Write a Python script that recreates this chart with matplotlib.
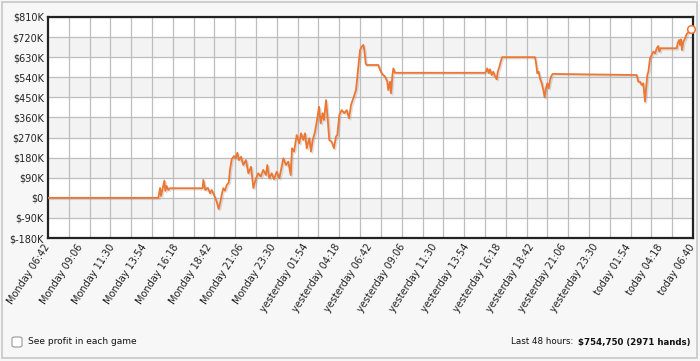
import numpy as np
import matplotlib.pyplot as plt
import matplotlib.patheffects as pe
from matplotlib.patches import Rectangle, FancyBboxPatch

# Horas desde "Monday 06:42" e lucro acumulado (milhares de $)
horas = [0.00, 8.21, 8.34, 8.41, 8.66, 8.73, 8.83, 8.95, 9.08, 11.51,
         11.56, 11.71, 11.89, 12.06, 12.18, 12.35, 12.55, 12.70, 12.80, 12.95,
         13.05, 13.17, 13.30, 13.45, 13.54, 13.67, 13.84, 13.97, 14.09, 14.21,
         14.36, 14.53, 14.73, 14.91, 15.11, 15.28, 15.48, 15.65, 15.83, 16.02,
         16.22, 16.32, 16.47, 16.65, 16.82, 17.02, 17.21, 17.39, 17.51, 17.71,
         17.88, 18.06, 18.16, 18.31, 18.51, 18.70, 18.83, 19.00, 19.13, 19.25,
         19.45, 19.57, 19.70, 19.87, 20.04, 20.17, 20.29, 20.44, 20.54, 20.69,
         20.82, 20.93, 21.11, 21.28, 21.43, 21.53, 21.68, 21.86, 22.05, 22.23,
         22.40, 22.55, 22.72, 22.92, 23.09, 23.22, 23.35, 23.47, 23.54, 23.64,
         23.70, 24.58, 24.71, 24.83, 24.95, 25.08, 25.25, 25.32, 25.45, 25.53,
         25.62, 25.70, 25.82, 32.52, 32.60, 32.69, 32.80, 32.89, 33.02, 33.14,
         33.27, 33.39, 33.47, 33.59, 33.69, 33.79, 36.24, 36.32, 36.41, 36.52,
         36.61, 36.74, 36.86, 36.96, 37.06, 37.16, 37.26, 37.36, 37.46, 37.56,
         43.81, 43.93, 44.06, 44.18, 44.30, 44.43, 44.50, 44.60, 44.68, 44.80,
         44.93, 45.05, 45.18, 45.30, 45.42, 45.49, 45.60, 46.79, 46.86, 46.96,
         47.03, 47.11, 47.18, 47.28, 47.41, 47.53, 47.65, 47.83]
lucro = [0, 0, 44, 8, 77, 31, 53, 35, 43, 43,
         80, 35, 45, 20, 35, 13, -17, -50, -25, 20,
         43, 32, 57, 68, 125, 173, 187, 177, 202, 169,
         184, 147, 169, 110, 139, 44, 87, 110, 95, 125,
         102, 147, 87, 110, 83, 117, 87, 139, 177, 147,
         162, 102, 222, 207, 281, 244, 289, 259, 289, 222,
         267, 207, 259, 296, 356, 408, 334, 379, 349, 438,
         349, 259, 251, 222, 274, 281, 371, 393, 379, 393,
         356, 416, 446, 483, 587, 662, 677, 685, 662, 603,
         595, 595, 573, 558, 550, 543, 520, 483, 520, 468,
         543, 580, 560, 560, 565, 580, 558, 576, 550, 565,
         543, 531, 565, 587, 610, 630, 630, 603, 558, 565,
         535, 513, 483, 450, 491, 513, 491, 528, 546, 555,
         550, 520, 520, 505, 513, 431, 483, 550, 565, 625,
         640, 655, 647, 670, 680, 655, 670, 670, 692, 707,
         685, 710, 662, 699, 714, 734, 740, 754.75]

rotulos_x = ['Monday 06:42', 'Monday 09:06', 'Monday 11:30', 'Monday 13:54',
             'Monday 16:18', 'Monday 18:42', 'Monday 21:06', 'Monday 23:30',
             'yesterday 01:54', 'yesterday 04:18', 'yesterday 06:42',
             'yesterday 09:06', 'yesterday 11:30', 'yesterday 13:54',
             'yesterday 16:18', 'yesterday 18:42', 'yesterday 21:06',
             'yesterday 23:30', 'today 01:54', 'today 04:18', 'today 06:40']
ticks_y = [-180, -90, 0, 90, 180, 270, 360, 450, 540, 630, 720, 810]

cor = '#ec7632'
fundo = '#f7f7f7'

fig = plt.figure(figsize=(7, 3.61), dpi=100, facecolor=fundo)
fig.patches.append(Rectangle((0.003, 0.008), 0.993, 0.986, transform=fig.transFigure,
                             fill=False, edgecolor='#c8c8c8', linewidth=1.2))

ax = fig.add_axes([48/700, 1-238/361, 645/700, 221/361])
ax.set_facecolor('white')

# faixas alternadas
for i in range(len(ticks_y) - 1):
    if i % 2 == 1:
        ax.axhspan(ticks_y[i], ticks_y[i+1], color='#f3f3f3', zorder=0, lw=0)

ax.set_xlim(0, 48)
ax.set_ylim(-180, 810)
ax.set_yticks(ticks_y)
ax.set_yticklabels(['$%dK' % v if v != 0 else '$0' for v in ticks_y], fontsize=7, color='#222222')
ax.set_xticks(np.linspace(0, 48, len(rotulos_x)))
ax.set_xticklabels(rotulos_x, rotation=57, ha='right', va='center', rotation_mode='anchor',
                   fontsize=7, color='#222222')
ax.set_xticks(np.linspace(0, 48, 32), minor=True)
ax.tick_params(length=0, pad=3, which='both')
ax.tick_params(axis='x', pad=5)

ax.grid(axis='y', color='#bdbdbd', linewidth=0.9, zorder=1)
ax.grid(axis='x', which='minor', color='#bdbdbd', linewidth=0.9, zorder=1)
ax.grid(axis='x', which='major', visible=False)
ax.set_axisbelow(True)
for s in ax.spines.values():
    s.set_linewidth(1.6)
    s.set_color('#222222')

ax.plot(horas, lucro, color=cor, linewidth=1.3, zorder=3,
        path_effects=[pe.SimpleLineShadow(offset=(1, -1), shadow_color='gray', alpha=0.25),
                      pe.Normal()])
ax.plot(horas[-1], lucro[-1], 'o', markersize=5.5, markerfacecolor='white',
        markeredgecolor=cor, markeredgewidth=1.1, zorder=4, clip_on=False)

# rodapé
fig.patches.append(FancyBboxPatch((12/700, 1-347/361), 10/700, 10/361,
                                  boxstyle='round,pad=0,rounding_size=0.004',
                                  transform=fig.transFigure, facecolor='white',
                                  edgecolor='#999999', linewidth=0.8))
fig.text(28/700, 1-342/361, 'See profit in each game', fontsize=6.5, va='center', color='#111111')

t_bold = fig.text(690/700, 1-342/361, '$754,750 (2971 hands)', fontsize=6.2, va='center',
                  ha='right', fontweight='bold', color='#111111')
fig.canvas.draw()
bb = t_bold.get_window_extent()
fig.text(bb.x0/700 - 0.002, 1-342/361, 'Last 48 hours: ', fontsize=6.3, va='center',
         ha='right', color='#111111')

fig.savefig('out.png', dpi=100, facecolor=fundo)
